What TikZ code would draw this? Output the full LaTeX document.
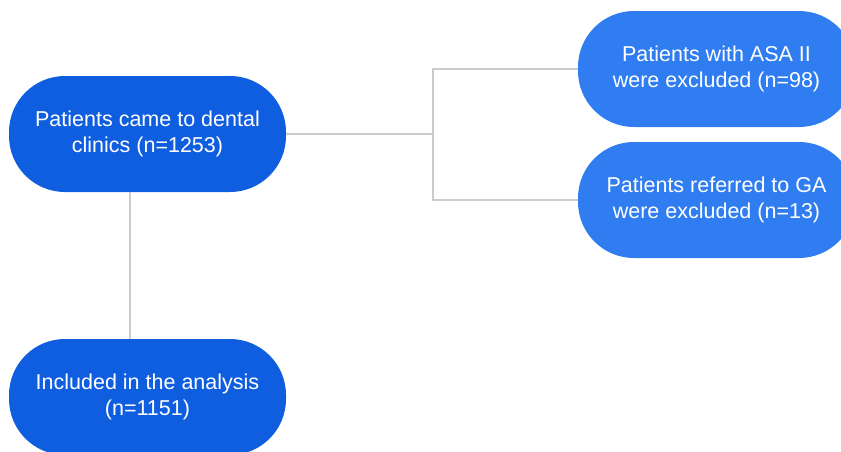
\documentclass[tikz,border=0pt]{standalone}
\usepackage{fontspec}
\setmainfont{Liberation Sans}
\usepackage{xcolor}
\definecolor{darkpill}{RGB}{16,94,224}
\definecolor{lightpill}{RGB}{47,125,240}
\definecolor{linkgrey}{RGB}{204,204,204}

\begin{document}
\begin{tikzpicture}[x=1pt,y=1pt,
    pill/.style={rectangle,rounded corners=56pt,minimum width=277pt,minimum height=116pt,
        inner sep=0pt,text=white,align=center,font=\fontsize{21.5}{26}\selectfont},
    link/.style={draw=linkgrey,line width=2pt}]
    \useasboundingbox (0,0) rectangle (841,-451);
    \clip (0,0) rectangle (841,-451);
\node[pill,fill=darkpill] (came) at (147.5,-134) {Patients came to dental\\clinics (n=1253)};
\node[pill,fill=darkpill] (incl) at (147.5,-397) {Included in the analysis\\(n=1151)};
\node[pill,fill=lightpill] (asa) at (716.5,-69) {Patients with ASA II\\were excluded (n=98)};
\node[pill,fill=lightpill] (ga) at (716.5,-200) {Patients referred to GA\\were excluded (n=13)};
\coordinate (split) at (433,-134);
\coordinate (trunk) at (130,-134);
\draw[link] (came.east) -- (split);
\draw[link] (asa.west) -| (split) |- (ga.west);
\draw[link] (came.south -| trunk) -- (incl.north -| trunk);
\end{tikzpicture}
\end{document}
